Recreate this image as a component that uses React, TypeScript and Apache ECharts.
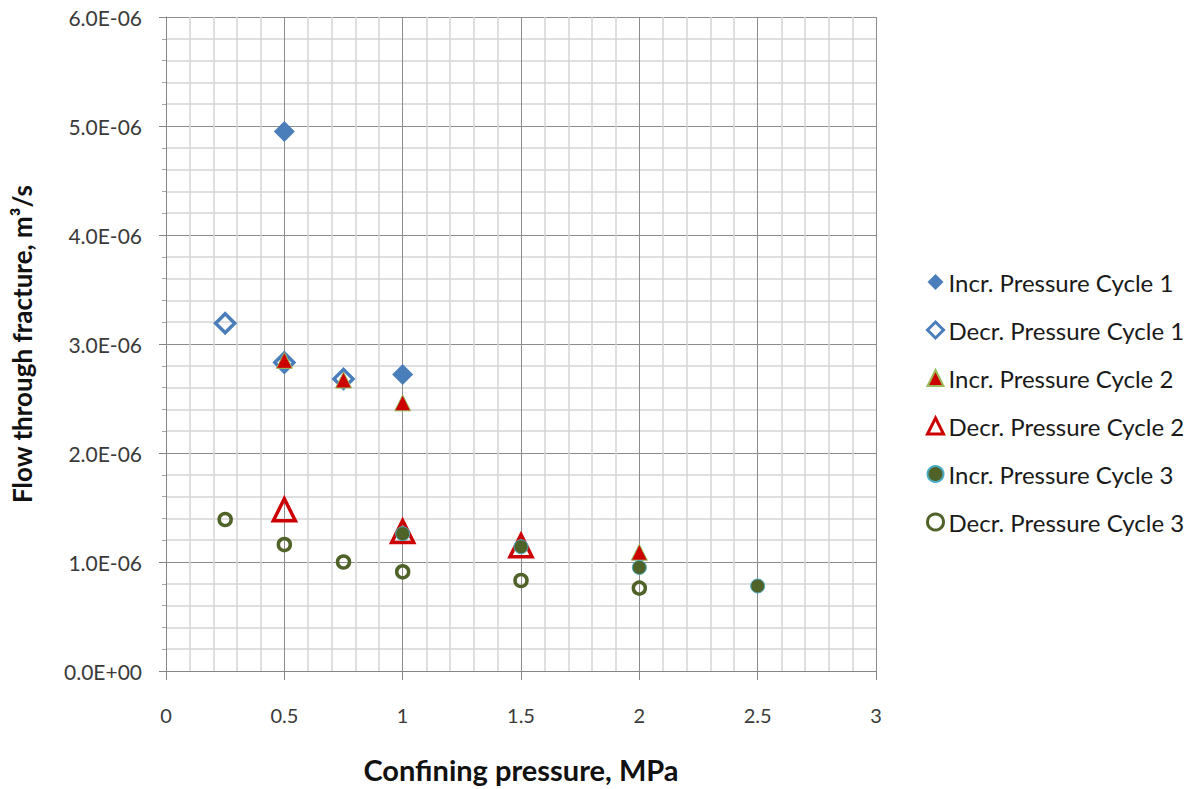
import React, { useEffect, useRef } from "react";
import * as echarts from "echarts";

// Confining pressure (MPa) and measured flow (m³/s) for each loading cycle
const incrCycle1X = [0.5, 1];
const incrCycle1Y = [4.95e-6, 2.72e-6];
const decrCycle1X = [0.25, 0.5, 0.75];
const decrCycle1Y = [3.19e-6, 2.83e-6, 2.68e-6];
const incrCycle2X = [0.5, 0.75, 1, 2];
const incrCycle2Y = [2.85e-6, 2.67e-6, 2.46e-6, 1.09e-6];
const decrCycle2X = [0.5, 1, 1.5];
const decrCycle2Y = [1.48e-6, 1.28e-6, 1.15e-6];
const incrCycle3X = [1, 1.5, 2, 2.5];
const incrCycle3Y = [1.26e-6, 1.14e-6, 0.95e-6, 0.78e-6];
const decrCycle3X = [0.25, 0.5, 0.75, 1, 1.5, 2];
const decrCycle3Y = [1.39e-6, 1.16e-6, 1.0e-6, 0.91e-6, 0.83e-6, 0.76e-6];

const seriesNames = [
  "Incr. Pressure Cycle 1",
  "Decr. Pressure Cycle 1",
  "Incr. Pressure Cycle 2",
  "Decr. Pressure Cycle 2",
  "Incr. Pressure Cycle 3",
  "Decr. Pressure Cycle 3",
];

const FONT = "Lato, 'Liberation Sans', sans-serif";
const BLUE = "#4a7ebb";
const RED = "#cc0000";
const GREEN = "#4f6228";

const pairs = (xs: number[], ys: number[]) => xs.map((x, i) => [x, ys[i]]);

// Excel-style scientific notation: 1.0E-06, 0.0E+00
const sci = (v: number) => {
  if (Math.abs(v) < 1e-15) return "0.0E+00";
  const [m, e] = v.toExponential(1).split("e");
  const n = parseInt(e, 10);
  const sign = n < 0 ? "-" : "+";
  const abs = Math.abs(n);
  return `${m}E${sign}${abs < 10 ? "0" + abs : abs}`;
};

export default function App() {
  const ref = useRef<HTMLDivElement>(null);

  useEffect(() => {
    if (!ref.current) return;
    const chart = echarts.init(ref.current, undefined, { renderer: "svg" });
    const clear = "rgba(255,255,255,0)";
    chart.setOption({
      animation: false,
      backgroundColor: "#ffffff",
      textStyle: { fontFamily: FONT },
      grid: { left: 166, right: 314, top: 17, bottom: 118, containLabel: false },
      xAxis: {
        type: "value",
        min: 0,
        max: 3,
        interval: 0.5,
        name: "Confining pressure, MPa",
        nameLocation: "middle",
        nameGap: 84,
        nameTextStyle: { fontFamily: FONT, fontSize: 29, fontWeight: "bold", color: "#111" },
        axisLine: { show: true, lineStyle: { color: "#868686", width: 1 } },
        axisTick: { show: true, inside: false, length: 9, lineStyle: { color: "#868686" } },
        axisLabel: { fontFamily: FONT, fontSize: 20, color: "#3a3a3a", margin: 34 },
        splitLine: { show: true, lineStyle: { color: "#8c8c8c", width: 1 } },
        minorTick: { show: false, splitNumber: 5 },
        minorSplitLine: { show: true, lineStyle: { color: "#d4d4d4", width: 1.5 } },
      },
      yAxis: {
        type: "value",
        min: 0,
        max: 6e-6,
        interval: 1e-6,
        name: "Flow through fracture, m³/s",
        nameLocation: "middle",
        nameGap: 131,
        nameRotate: 90,
        nameTextStyle: { fontFamily: FONT, fontSize: 26, fontWeight: "bold", color: "#111" },
        axisLine: { show: true, lineStyle: { color: "#868686", width: 1 } },
        axisTick: { show: true, inside: false, length: 7, lineStyle: { color: "#868686" } },
        axisLabel: { fontFamily: FONT, fontSize: 21, color: "#3a3a3a", margin: 24, formatter: sci },
        splitLine: { show: true, lineStyle: { color: "#8c8c8c", width: 1 } },
        minorTick: { show: true, splitNumber: 5, length: 4, lineStyle: { color: "#a6a6a6" } },
        minorSplitLine: { show: true, lineStyle: { color: "#d4d4d4", width: 1.5 } },
      },
      legend: {
        orient: "vertical",
        left: 921,
        top: 265,
        itemGap: 24,
        itemWidth: 16,
        itemHeight: 16,
        textStyle: { fontFamily: FONT, fontSize: 24, lineHeight: 24, color: "#1a1a1a" },
        data: [
          { name: seriesNames[0] },
          { name: seriesNames[1], itemStyle: { borderWidth: 3 } },
          { name: seriesNames[2] },
          { name: seriesNames[3], itemStyle: { borderWidth: 3 } },
          { name: seriesNames[4] },
          { name: seriesNames[5], itemStyle: { borderWidth: 3 } },
        ],
      },
      series: [
        {
          name: seriesNames[0],
          type: "scatter",
          symbol: "diamond",
          symbolSize: 21,
          itemStyle: { color: BLUE, opacity: 1 },
          data: pairs(incrCycle1X, incrCycle1Y),
        },
        {
          name: seriesNames[1],
          type: "scatter",
          symbol: "diamond",
          symbolSize: 19,
          itemStyle: { color: clear, borderColor: BLUE, borderWidth: 3.5, opacity: 1 },
          data: pairs(decrCycle1X, decrCycle1Y),
        },
        {
          name: seriesNames[2],
          type: "scatter",
          symbol: "triangle",
          symbolSize: 16,
          itemStyle: { color: RED, borderColor: "#9bbb59", borderWidth: 1, opacity: 1 },
          data: pairs(incrCycle2X, incrCycle2Y),
        },
        {
          name: seriesNames[3],
          type: "scatter",
          symbol: "triangle",
          symbolSize: 22,
          itemStyle: { color: clear, borderColor: RED, borderWidth: 3.5, opacity: 1 },
          data: pairs(decrCycle2X, decrCycle2Y),
        },
        {
          name: seriesNames[4],
          type: "scatter",
          symbol: "circle",
          symbolSize: 14,
          itemStyle: { color: GREEN, borderColor: "#4bacc6", borderWidth: 1, opacity: 1 },
          data: pairs(incrCycle3X, incrCycle3Y),
        },
        {
          name: seriesNames[5],
          type: "scatter",
          symbol: "circle",
          symbolSize: 12,
          itemStyle: { color: clear, borderColor: GREEN, borderWidth: 3.5, opacity: 1 },
          data: pairs(decrCycle3X, decrCycle3Y),
        },
      ],
    });
    return () => chart.dispose();
  }, []);

  return (
    <div
      ref={ref}
      style={{ position: "fixed", left: 0, top: 0, width: 1190, height: 789 }}
    />
  );
}
